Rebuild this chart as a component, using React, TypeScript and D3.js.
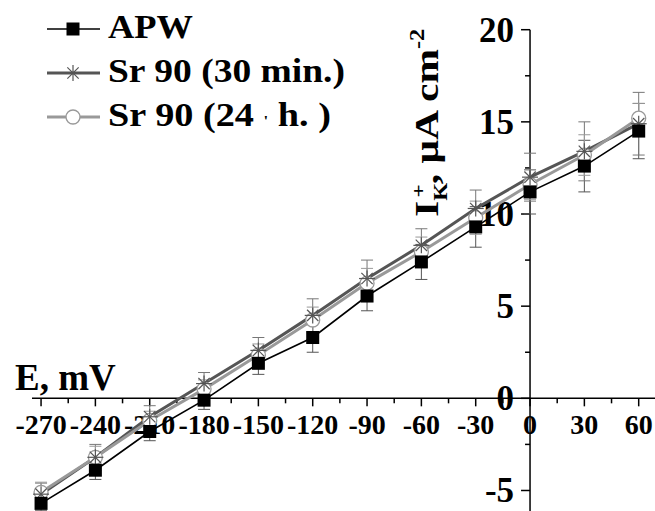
import { useEffect, useRef } from "react";
import * as d3 from "d3";

// membrane potential, mV
const potentials = [-270, -240, -210, -180, -150, -120, -90, -60, -30, 0, 30, 60];

// I K+, uA cm-2
const apwValues = [-5.7, -3.9, -1.8, -0.1, 1.9, 3.3, 5.55, 7.4, 9.3, 11.2, 12.6, 14.5];
const apwErrors = [0.4, 0.5, 0.5, 0.5, 0.6, 0.8, 0.8, 0.95, 1.1, 1.2, 1.4, 1.5];
const sr30Values = [-5.2, -3.2, -1.0, 0.8, 2.6, 4.5, 6.5, 8.3, 10.3, 12.0, 13.4, 14.9];
const sr30Errors = [0.6, 0.7, 0.6, 0.6, 0.7, 0.9, 1.0, 0.9, 1.0, 1.3, 1.6, 1.7];
const sr24Values = [-5.1, -3.2, -1.2, 0.5, 2.35, 4.25, 6.25, 7.95, 9.8, 11.6, 13.2, 15.2];
const sr24Errors = [0.55, 0.6, 0.5, 0.5, 0.6, 0.7, 0.8, 0.8, 0.9, 0.8, 1.1, 0.8];

const xTicks = [-270, -240, -210, -180, -150, -120, -90, -60, -30, 0, 30, 60];
const yTicks = [-5, 0, 5, 10, 15, 20];

const FONT = "Liberation Serif, Times New Roman, serif";

const App = () => {
  const svgRef = useRef<SVGSVGElement>(null);

  useEffect(() => {
    const width = 655;
    const height = 511;
    const svg = d3.select(svgRef.current);
    svg.selectAll("*").remove();
    svg.attr("width", width).attr("height", height);

    const x = d3.scaleLinear().domain([-275, 69]).range([32, 655]);
    const y = d3.scaleLinear().domain([-6.2, 20]).range([512.6, 29.7]);
    const x0 = x(0);
    const y0 = y(0);

    const series = [
      { name: "APW", values: apwValues, errors: apwErrors, color: "#000", width: 1.6, errColor: "#555", marker: "square" },
      { name: "Sr 90 (30 min.)", values: sr30Values, errors: sr30Errors, color: "#555", width: 3, errColor: "#777", marker: "star" },
      { name: "Sr 90 (24 h.)", values: sr24Values, errors: sr24Errors, color: "#999", width: 3, errColor: "#999", marker: "circle" },
    ];

    // tick labels (under the data)
    svg.append("g")
      .selectAll("text")
      .data(xTicks)
      .enter()
      .append("text")
      .attr("x", (d) => x(d))
      .attr("y", y0 + 36)
      .attr("text-anchor", "middle")
      .attr("font-family", FONT)
      .attr("font-weight", "bold")
      .attr("font-size", 28)
      .text((d) => d);

    svg.append("g")
      .selectAll("text")
      .data(yTicks)
      .enter()
      .append("text")
      .attr("x", x0 - 16)
      .attr("y", (d) => y(d) + 12)
      .attr("text-anchor", "end")
      .attr("font-family", FONT)
      .attr("font-weight", "bold")
      .attr("font-size", 35)
      .text((d) => d);

    // axes
    const axes = svg.append("g").attr("stroke", "#000").attr("stroke-width", 1.5);
    axes.append("line").attr("x1", 32).attr("x2", width).attr("y1", y0).attr("y2", y0);
    axes.append("line").attr("x1", x0).attr("x2", x0).attr("y1", y(20)).attr("y2", height);
    axes.selectAll(".xt")
      .data(d3.range(-270, 61, 15))
      .enter()
      .append("line")
      .attr("x1", (d) => x(d))
      .attr("x2", (d) => x(d))
      .attr("y1", y0)
      .attr("y2", (d) => y0 + (d % 30 === 0 ? 8 : 5));
    axes.selectAll(".yt")
      .data(d3.range(-5, 20.1, 2.5))
      .enter()
      .append("line")
      .attr("y1", (d) => y(d))
      .attr("y2", (d) => y(d))
      .attr("x1", x0)
      .attr("x2", (d) => x0 - (d % 5 === 0 ? 9 : 5));

    // axis titles
    svg.append("text")
      .attr("x", 15)
      .attr("y", 390)
      .attr("font-family", FONT)
      .attr("font-weight", "bold")
      .attr("font-size", 37)
      .text("E, mV");

    const yTitle = svg.append("text")
      .attr("transform", "translate(438,217) rotate(-90) scale(1.22,1)")
      .attr("font-family", FONT)
      .attr("font-weight", "bold")
      .attr("font-size", 34);
    yTitle.append("tspan").text("I");
    yTitle.append("tspan").attr("dy", 9).attr("font-size", 19).text("K");
    yTitle.append("tspan").attr("dx", -12).attr("dy", -22).attr("font-size", 19).text("+");
    yTitle.append("tspan").attr("dy", 13).text(", μA cm");
    yTitle.append("tspan").attr("dy", -14).attr("font-size", 20).text("-2");

    // lines
    const line = d3
      .line<number>()
      .x((_, i) => x(potentials[i]))
      .y((d) => y(d));

    series.forEach((s) => {
      svg.append("path")
        .datum(s.values)
        .attr("fill", "none")
        .attr("stroke", s.color)
        .attr("stroke-width", s.width)
        .attr("d", line);
    });

    // error bars
    series.forEach((s) => {
      const g = svg.append("g").attr("stroke", s.errColor).attr("stroke-width", 1);
      s.values.forEach((v, i) => {
        const cx = x(potentials[i]);
        const top = y(v + s.errors[i]);
        const bot = y(v - s.errors[i]);
        g.append("line").attr("x1", cx).attr("x2", cx).attr("y1", top).attr("y2", bot);
        g.append("line").attr("x1", cx - 6).attr("x2", cx + 6).attr("y1", top).attr("y2", top);
        g.append("line").attr("x1", cx - 6).attr("x2", cx + 6).attr("y1", bot).attr("y2", bot);
      });
    });

    const drawMarker = (g: any, kind: string, cx: number, cy: number, color: string) => {
      if (kind === "square") {
        g.append("rect")
          .attr("x", cx - 6.5)
          .attr("y", cy - 6.5)
          .attr("width", 13)
          .attr("height", 13)
          .attr("fill", "#000");
      } else if (kind === "circle") {
        g.append("circle")
          .attr("cx", cx)
          .attr("cy", cy)
          .attr("r", 7)
          .attr("fill", "#fff")
          .attr("stroke", color)
          .attr("stroke-width", 1.3);
      } else {
        const r = 8;
        [0, 45, 90, 135].forEach((a) => {
          const dx = r * Math.cos((a * Math.PI) / 180);
          const dy = r * Math.sin((a * Math.PI) / 180);
          g.append("line")
            .attr("x1", cx - dx)
            .attr("x2", cx + dx)
            .attr("y1", cy - dy)
            .attr("y2", cy + dy)
            .attr("stroke", color)
            .attr("stroke-width", 1.2);
        });
      }
    };

    // markers: circles, stars, then squares on top
    [series[2], series[1], series[0]].forEach((s) => {
      const g = svg.append("g");
      s.values.forEach((v, i) => drawMarker(g, s.marker, x(potentials[i]), y(v), s.color));
    });

    // legend
    const legendRows = [
      { s: series[0], ly: 29, ty: 38, len: 85 },
      { s: series[1], ly: 73, ty: 82, len: 237 },
      { s: series[2], ly: 117, ty: 126, len: 223 },
    ];
    legendRows.forEach((r) => {
      const g = svg.append("g");
      g.append("line")
        .attr("x1", 47)
        .attr("x2", 100)
        .attr("y1", r.ly)
        .attr("y2", r.ly)
        .attr("stroke", r.s.color)
        .attr("stroke-width", r.s.width);
      drawMarker(g, r.s.marker, 73, r.ly, r.s.color);
      const t = g.append("text")
        .attr("x", 108)
        .attr("y", r.ty)
        .attr("textLength", r.len)
        .attr("lengthAdjust", "spacingAndGlyphs")
        .attr("font-family", FONT)
        .attr("font-weight", "bold")
        .attr("font-size", 34);
      if (r.s.marker === "circle") {
        t.append("tspan").text("Sr 90 (24 ");
        t.append("tspan").attr("font-size", 15).text("'");
        t.append("tspan").text(" h. )");
      } else {
        t.text(r.s.name);
      }
    });
  }, []);

  return (
    <div style={{ position: "absolute", left: 0, top: 0, background: "#fff" }}>
      <svg ref={svgRef} style={{ display: "block" }}></svg>
    </div>
  );
};

export default App;
